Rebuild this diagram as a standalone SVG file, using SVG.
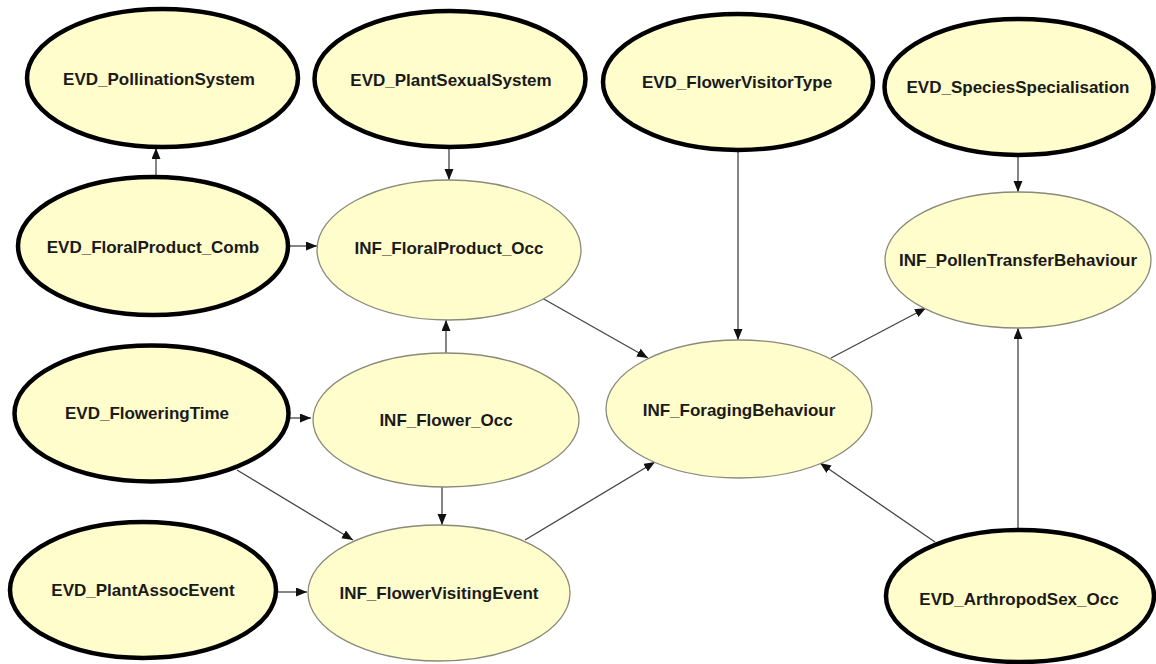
<svg xmlns="http://www.w3.org/2000/svg" width="1156" height="664" viewBox="0 0 1156 664">
<style>
.n ellipse{fill:#FFFDCB}
.ev ellipse{stroke:#000;stroke-width:4.5}
.inf ellipse{stroke:#8a8a7a;stroke-width:1.3}
.n text{font-family:"Liberation Sans",Arial,sans-serif;font-weight:bold;font-size:17px;fill:#1a1a1a;text-anchor:middle}
.e line{stroke:#444;stroke-width:1.3;marker-end:url(#ah)}
</style>
<defs>
<marker id="ah" markerUnits="userSpaceOnUse" markerWidth="12" markerHeight="10" refX="11" refY="4.5" orient="auto">
<path d="M0,0 L11,4.5 L0,9 Z" fill="#111"/>
</marker>
</defs>
<rect width="1156" height="664" fill="#fff"/>
<g id="connectors" class="e">
<line x1="156" y1="177" x2="156" y2="148"/>
<line x1="449" y1="147" x2="449" y2="180"/>
<line x1="288" y1="246" x2="317" y2="246"/>
<line x1="446" y1="353" x2="446" y2="320"/>
<line x1="289" y1="418" x2="311" y2="418"/>
<line x1="237" y1="470" x2="353" y2="540"/>
<line x1="442" y1="487" x2="442" y2="525"/>
<line x1="276" y1="592" x2="307" y2="592"/>
<line x1="542" y1="298" x2="648" y2="358"/>
<line x1="738" y1="150" x2="738" y2="340"/>
<line x1="525" y1="540" x2="655" y2="462"/>
<line x1="935" y1="542" x2="820" y2="463"/>
<line x1="831" y1="358" x2="926" y2="308"/>
<line x1="1018" y1="155" x2="1018" y2="192"/>
<line x1="1018" y1="530" x2="1018" y2="328"/>
</g>
<g id="EVD_PollinationSystem" class="n ev"><ellipse cx="162.5" cy="78" rx="135.5" ry="69"/><text x="159" y="85">EVD_PollinationSystem</text></g>
<g id="EVD_PlantSexualSystem" class="n ev"><ellipse cx="450" cy="79" rx="135.5" ry="68"/><text x="451" y="86">EVD_PlantSexualSystem</text></g>
<g id="EVD_FlowerVisitorType" class="n ev"><ellipse cx="738" cy="82" rx="135" ry="68"/><text x="737" y="88">EVD_FlowerVisitorType</text></g>
<g id="EVD_SpeciesSpecialisation" class="n ev"><ellipse cx="1019" cy="87" rx="134.5" ry="68"/><text x="1018" y="93">EVD_SpeciesSpecialisation</text></g>
<g id="EVD_FloralProduct_Comb" class="n ev"><ellipse cx="153" cy="246" rx="135" ry="69"/><text x="153" y="253">EVD_FloralProduct_Comb</text></g>
<g id="INF_FloralProduct_Occ" class="n inf"><ellipse cx="449" cy="250" rx="132" ry="70"/><text x="449" y="254">INF_FloralProduct_Occ</text></g>
<g id="INF_PollenTransferBehaviour" class="n inf"><ellipse cx="1018" cy="260" rx="133" ry="68"/><text x="1018" y="266">INF_PollenTransferBehaviour</text></g>
<g id="EVD_FloweringTime" class="n ev"><ellipse cx="151.5" cy="413.5" rx="137" ry="68"/><text x="147" y="419">EVD_FloweringTime</text></g>
<g id="INF_Flower_Occ" class="n inf"><ellipse cx="446" cy="420" rx="133" ry="67"/><text x="446" y="426">INF_Flower_Occ</text></g>
<g id="INF_ForagingBehaviour" class="n inf"><ellipse cx="739" cy="409" rx="133" ry="69"/><text x="739" y="416">INF_ForagingBehaviour</text></g>
<g id="EVD_PlantAssocEvent" class="n ev"><ellipse cx="143" cy="590" rx="133" ry="68"/><text x="143" y="596">EVD_PlantAssocEvent</text></g>
<g id="INF_FlowerVisitingEvent" class="n inf"><ellipse cx="439" cy="593" rx="131" ry="68"/><text x="439" y="599">INF_FlowerVisitingEvent</text></g>
<g id="EVD_ArthropodSex_Occ" class="n ev"><ellipse cx="1020" cy="596" rx="134" ry="66"/><text x="1019" y="605">EVD_ArthropodSex_Occ</text></g>
</svg>
